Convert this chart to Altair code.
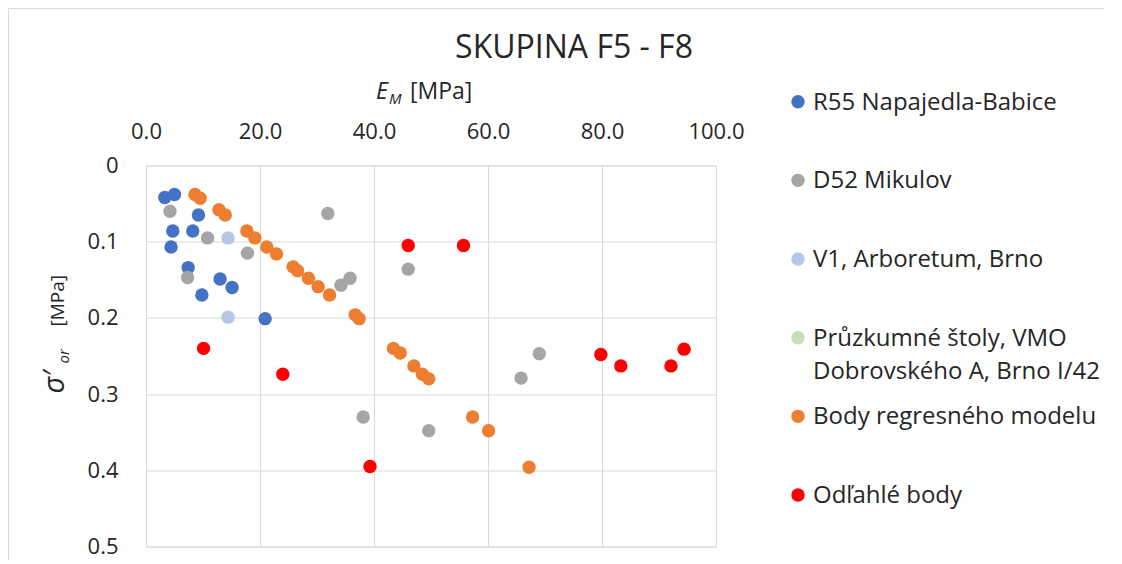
import altair as alt
import pandas as pd

# ---------------- data ----------------
series_names = [
    "R55 Napajedla-Babice",
    "D52 Mikulov",
    "V1, Arboretum, Brno",
    "Průzkumné štoly, VMO Dobrovského A, Brno I/42",
    "Body regresného modelu",
    "Odľahlé body",
]
legend_labels = [
    "R55 Napajedla-Babice",
    "D52 Mikulov",
    "V1, Arboretum, Brno",
    "Průzkumné štoly, VMO\nDobrovského A, Brno I/42",
    "Body regresného modelu",
    "Odľahlé body",
]
series_colors = ["#4472C4", "#A5A5A5", "#B4C7E7", "#C5E0B4", "#ED7D31", "#FF0000"]

r55_em = [3.3, 5.0, 9.2, 4.7, 8.2, 4.4, 7.4, 13.0, 15.1, 9.8, 20.9]
r55_sigma = [0.042, 0.038, 0.065, 0.086, 0.086, 0.107, 0.134, 0.149, 0.160, 0.170, 0.201]

d52_em = [4.2, 10.8, 17.8, 7.3, 31.9, 46.0, 34.2, 35.8, 38.1, 49.6, 65.8, 69.0]
d52_sigma = [0.060, 0.095, 0.115, 0.147, 0.063, 0.136, 0.157, 0.148, 0.330, 0.348, 0.279, 0.247]

v1_em = [14.4, 14.4]
v1_sigma = [0.095, 0.199]

stoly_em = []
stoly_sigma = []

model_em = [8.6, 9.5, 12.8, 13.9, 17.7, 19.1, 21.2, 22.9, 25.8, 26.6, 28.5, 30.2, 32.2,
            36.7, 37.4, 43.4, 44.6, 47.0, 48.5, 49.6, 57.3, 60.1, 67.2]
model_sigma = [0.038, 0.043, 0.058, 0.065, 0.086, 0.095, 0.107, 0.116, 0.133, 0.138, 0.148,
               0.159, 0.170, 0.196, 0.201, 0.240, 0.246, 0.263, 0.274, 0.280, 0.330, 0.348, 0.396]

outlier_em = [10.1, 24.0, 39.3, 46.0, 55.7, 79.8, 83.3, 92.1, 94.4]
outlier_sigma = [0.240, 0.274, 0.395, 0.105, 0.105, 0.248, 0.263, 0.263, 0.241]

x_ticks = [0, 20, 40, 60, 80, 100]
y_ticks = [0, 0.1, 0.2, 0.3, 0.4, 0.5]

chart_title = "SKUPINA F5 - F8"

# ---------------- tables ----------------
all_em = [r55_em, d52_em, v1_em, stoly_em, model_em, outlier_em]
all_sigma = [r55_sigma, d52_sigma, v1_sigma, stoly_sigma, model_sigma, outlier_sigma]
rows = []
for i, (name, ems, sigs) in enumerate(zip(series_names, all_em, all_sigma)):
    for e, s in zip(ems, sigs):
        rows.append({"series": name, "em": e, "sigma": s, "series_order": i})
points_df = pd.DataFrame(rows)

legend_df = pd.DataFrame({
    "series": series_names,
    "label": legend_labels,
    "slot": list(range(len(series_names))),
})

FONT = "Open Sans"
TXT = "#262626"
GRID = "#D9D9D9"

color_scale = alt.Scale(domain=series_names, range=series_colors)

points = alt.Chart(points_df).mark_circle(size=180, opacity=1).encode(
    x=alt.X("em:Q",
            scale=alt.Scale(domain=[0, 100], nice=False),
            axis=alt.Axis(orient="top", values=x_ticks, format=".1f", title=None,
                          labelFontSize=22, labelFont=FONT, labelColor=TXT,
                          labelPadding=22, labelFlush=False, ticks=False, domain=False,
                          grid=True, gridColor=GRID)),
    y=alt.Y("sigma:Q",
            scale=alt.Scale(domain=[0, 0.5], reverse=True, nice=False),
            axis=alt.Axis(orient="left", values=y_ticks, title=None,
                          labelExpr="datum.value == 0 ? '0' : format(datum.value, '.1f')",
                          labelFontSize=22, labelFont=FONT, labelColor=TXT,
                          labelPadding=28, labelFlush=False, ticks=False,
                          domain=True, domainColor=GRID,
                          grid=True, gridColor=GRID)),
    color=alt.Color("series:N", scale=color_scale, legend=None),
    order=alt.Order("series_order:Q"),
)

legend_y = alt.Y("slot:Q", scale=alt.Scale(domain=[0, 5], range=[-63.8, 329.5]), axis=None)

legend_pts = alt.Chart(legend_df).mark_circle(size=180, opacity=1).encode(
    x=alt.value(652),
    y=legend_y,
    color=alt.Color("series:N", scale=color_scale, legend=None),
)

legend_txt = alt.Chart(legend_df).mark_text(
    align="left", baseline="top", dy=-11, lineBreak="\n", lineHeight=33,
    fontSize=24, font=FONT, color=TXT,
).encode(
    x=alt.value(667),
    y=legend_y,
    text="label:N",
)

one = pd.DataFrame({"k": [0]})

def label(txt, x, y, size, style="normal", angle=0, align="left", baseline="alphabetic"):
    return alt.Chart(one).mark_text(
        text=txt, align=align, baseline=baseline, fontSize=size,
        font=FONT, fontStyle=style, color=TXT, angle=angle,
    ).encode(x=alt.value(x), y=alt.value(y))

title_mark = label(chart_title, 428, -118, 32, align="center", baseline="middle")

x_title = [
    label("E", 230, -66.5, 23, "italic"),
    label("M", 243, -62, 15, "italic"),
    label("[MPa]", 264, -66.5, 23),
]
y_title = [
    label("σ′", -82, 228, 29, "italic", 270),
    label("or", -77, 198, 15, "italic", 270),
    label("[MPa]", -82, 161, 19, "normal", 270),
]

# light chart-area border (left and top edges, as in the reference)
frame_left = alt.Chart(one).mark_rule(stroke=GRID, strokeWidth=1).encode(
    x=alt.value(-137.5), y=alt.value(-157), y2=alt.value(395),
)
frame_top = alt.Chart(one).mark_rule(stroke=GRID, strokeWidth=1).encode(
    x=alt.value(-137.5), x2=alt.value(958), y=alt.value(-157),
)

chart = alt.layer(
    frame_left, frame_top, points, legend_pts, legend_txt, title_mark, *x_title, *y_title
).resolve_scale(
    y="independent"
).properties(
    width=570,
    height=381,
    autosize=alt.AutoSizeParams(type="none"),
    padding={"left": 138, "top": 157.5, "right": 398, "bottom": 16},
).configure_view(
    strokeWidth=0
).configure(
    background="white"
)

chart.save("out.html", embed_options={"renderer": "svg", "actions": False})
